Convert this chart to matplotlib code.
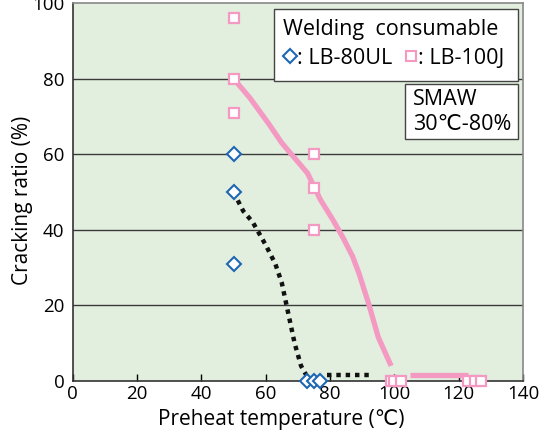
import matplotlib.pyplot as plt
from matplotlib.patches import Rectangle
from matplotlib.lines import Line2D

plt.rcParams['font.family'] = ['Open Sans', 'DejaVu Sans']

# measured points
lb80_x = [50, 50, 50, 73, 75, 77]
lb80_y = [60, 50, 31, 0, 0, 0]
lb100_x = [50, 50, 50, 75, 75, 75, 99, 100, 102, 123, 125, 127]
lb100_y = [96, 80, 71, 60, 51, 40, 0, 0, 0, 0, 0, 0]

# trend curves
lb80_curve_x = [50, 53, 56, 60, 63, 65, 67, 69, 71, 73]
lb80_curve_y = [50, 45, 42, 36, 31, 26, 18, 10, 4, 1]
lb80_flat_x = [79, 93]
lb80_flat_y = [1.5, 1.5]
lb100_curve_x = [50, 55, 61, 65, 70, 73, 77, 81, 84, 87, 89, 92, 95, 99]
lb100_curve_y = [80, 75, 68, 63, 58, 55, 48, 42.5, 38, 33, 28.5, 20.5, 11.6, 4]
lb100_flat_x = [105, 123]
lb100_flat_y = [1.5, 1.5]

pink = '#f49ac2'
blue = '#1f66b4'
fs = 15.5

fig = plt.figure(figsize=(5.44, 4.36), dpi=100)
ax = fig.add_axes([0.1336, 0.1261, 0.8278, 0.8669])
ax.set_facecolor('#e2efdf')

ax.set_xlim(0, 140)
ax.set_ylim(0, 100)
ax.set_xticks(range(0, 141, 20))
ax.set_yticks(range(0, 101, 20))
for y in [20, 40, 60, 80]:
    ax.axhline(y, color='#3a3a3a', lw=1.0, zorder=1)

ax.plot(lb100_curve_x, lb100_curve_y, color=pink, lw=3.8, solid_capstyle='butt', zorder=2)
ax.plot(lb100_flat_x, lb100_flat_y, color=pink, lw=3.8, solid_capstyle='butt', zorder=2)
ax.plot(lb80_curve_x, lb80_curve_y, color='#111111', lw=3.2, ls=(0, (1, 1.1)),
        dash_capstyle='butt', zorder=2)
ax.plot(lb80_flat_x, lb80_flat_y, color='#111111', lw=3.2, ls=(0, (1, 1.1)),
        dash_capstyle='butt', zorder=2)

ax.plot(lb100_x, lb100_y, ls='none', marker='s', ms=7.5, mfc='white', mec=pink,
        mew=1.6, zorder=3, clip_on=False)
ax.plot(lb80_x, lb80_y, ls='none', marker='D', ms=7, mfc='white', mec=blue,
        mew=1.5, zorder=4, clip_on=False)

ax.tick_params(axis='x', direction='in', length=5, width=1, labelsize=13.5, pad=3)
ax.tick_params(axis='y', length=0, labelsize=13.5, pad=6)
ax.set_xlabel('Preheat temperature (\u2103)', fontsize=15)
ax.set_ylabel('Cracking ratio (%)', fontsize=15)
ax.xaxis.set_label_coords(0.463, -0.075)
ax.yaxis.set_label_coords(-0.088, 0.479)

for s in ['left', 'bottom']:
    ax.spines[s].set_color('#333333')
    ax.spines[s].set_linewidth(1.2)
for s in ['top', 'right']:
    ax.spines[s].set_color('#888888')
    ax.spines[s].set_linewidth(1.2)

# legend box
ax.add_patch(Rectangle((0.447, 0.795), 0.542, 0.19, transform=ax.transAxes,
                       facecolor='white', edgecolor='#444444', lw=1, zorder=5))
ax.text(0.467, 0.916, 'Welding  consumable', transform=ax.transAxes, fontsize=fs,
        va='baseline', ha='left', zorder=6)
ax.add_line(Line2D([0.483], [0.86], transform=ax.transAxes, marker='D', ms=7.5,
                   mfc='white', mec=blue, mew=1.5, ls='none', zorder=6))
ax.text(0.499, 0.839, ': LB-80UL', transform=ax.transAxes, fontsize=fs,
        va='baseline', ha='left', zorder=6)
ax.add_line(Line2D([0.752], [0.86], transform=ax.transAxes, marker='s', ms=6.5,
                   mfc='white', mec=pink, mew=1.5, ls='none', zorder=6))
ax.text(0.766, 0.839, ': LB-100J', transform=ax.transAxes, fontsize=fs,
        va='baseline', ha='left', zorder=6)

# condition box
ax.add_patch(Rectangle((0.738, 0.641), 0.251, 0.145, transform=ax.transAxes,
                       facecolor='white', edgecolor='#444444', lw=1, zorder=5))
ax.text(0.756, 0.731, 'SMAW', transform=ax.transAxes, fontsize=fs,
        va='baseline', ha='left', zorder=6)
ax.text(0.756, 0.665, '30\u2103-80%', transform=ax.transAxes, fontsize=fs,
        va='baseline', ha='left', zorder=6)

fig.savefig('out.png', dpi=100)
